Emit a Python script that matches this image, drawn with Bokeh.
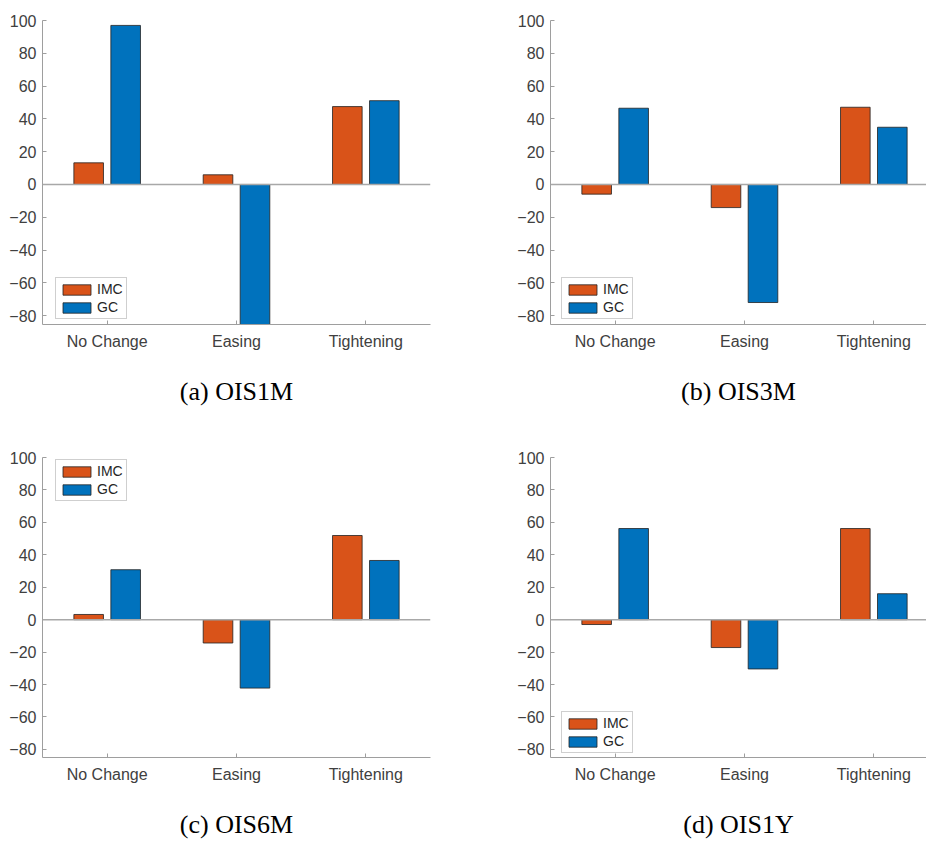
from bokeh.plotting import figure
from bokeh.models import ColumnDataSource, FixedTicker, Span, Legend, LegendItem
from bokeh.layouts import row, column
from bokeh.transform import dodge
from bokeh.embed import file_html
from bokeh.resources import INLINE

categories = ["No Change", "Easing", "Tightening"]
series_names = ["IMC", "GC"]
captions = ["(a) OIS1M", "(b) OIS3M", "(c) OIS6M", "(d) OIS1Y"]

imc_a = [13.2, 5.9, 47.5]
gc_a = [97.0, -95.0, 51.1]
imc_b = [-5.9, -14.1, 47.1]
gc_b = [46.5, -72.0, 34.9]
imc_c = [3.2, -14.4, 51.9]
gc_c = [30.8, -42.2, 36.5]
imc_d = [-3.0, -17.2, 56.2]
gc_d = [56.2, -30.4, 16.0]

y_ticks = [-80, -60, -40, -20, 0, 20, 40, 60, 80, 100]

IMC_COLOR = "#D95319"
GC_COLOR = "#0072BD"
AXIS_COLOR = "#9e9e9e"
TEXT_COLOR = "#404040"


def make_panel(caption, imc, gc, width, height, b_left, b_right, b_top, b_bottom,
               x_end, y_start, legend_loc):
    p = figure(width=width, height=height, output_backend="svg", toolbar_location=None,
               x_range=(0.5, x_end), y_range=(y_start, 100),
               min_border_left=b_left, min_border_right=b_right,
               min_border_top=b_top, min_border_bottom=b_bottom)
    p.outline_line_color = None
    p.xgrid.grid_line_color = None
    p.ygrid.grid_line_color = None
    p.background_fill_color = "white"
    p.border_fill_color = "white"

    src = ColumnDataSource(dict(pos=[i + 1 for i in range(len(categories))], imc=imc, gc=gc))
    r1 = p.vbar(x=dodge("pos", -0.143), top="imc", bottom=0, width=0.229, source=src,
                fill_color=IMC_COLOR, line_color="#222222", line_width=0.8)
    r2 = p.vbar(x=dodge("pos", 0.143), top="gc", bottom=0, width=0.229, source=src,
                fill_color=GC_COLOR, line_color="#222222", line_width=0.8)

    p.add_layout(Span(location=0, dimension="width", line_color="#a8a8a8", line_width=1.5))

    for ax in (p.xaxis[0], p.yaxis[0]):
        ax.axis_line_color = AXIS_COLOR
        ax.major_tick_line_color = AXIS_COLOR
        ax.minor_tick_line_color = None
        ax.major_tick_in = 4
        ax.major_tick_out = 0
        ax.major_label_text_font = "Liberation Sans"
        ax.major_label_text_font_size = "16px"
        ax.major_label_text_color = TEXT_COLOR

    p.yaxis.ticker = FixedTicker(ticks=y_ticks)
    p.yaxis.major_label_standoff = 6
    p.xaxis.ticker = FixedTicker(ticks=[i + 1 for i in range(len(categories))])
    p.xaxis.major_label_overrides = {i + 1: c for i, c in enumerate(categories)}
    p.xaxis.major_label_standoff = 8
    p.xaxis.axis_label = caption
    p.xaxis.axis_label_text_font = "Liberation Serif"
    p.xaxis.axis_label_text_font_size = "26px"
    p.xaxis.axis_label_text_font_style = "normal"
    p.xaxis.axis_label_text_color = "black"
    p.xaxis.axis_label_standoff = 24

    legend = Legend(items=[LegendItem(label=series_names[0], renderers=[r1]),
                           LegendItem(label=series_names[1], renderers=[r2])],
                    location=legend_loc)
    legend.border_line_color = "#a0a0a0"
    legend.border_line_width = 1
    legend.background_fill_color = "white"
    legend.background_fill_alpha = 1.0
    legend.padding = 3
    legend.spacing = 2
    legend.margin = 0
    legend.glyph_width = 35
    legend.glyph_height = 13
    legend.label_height = 16
    legend.label_standoff = 3
    legend.label_text_font = "Liberation Sans"
    legend.label_text_font_size = "14px"
    legend.label_text_color = "#262626"
    p.add_layout(legend)
    return p


XB_END = 0.5 + 376 / 129.33

pa = make_panel(captions[0], imc_a, gc_a, 468, 430, 42, 38, 20, 106, 3.5, -85.4, (13, 5))
pb = make_panel(captions[1], imc_b, gc_b, 458, 430, 82, 0, 20, 106, XB_END, -85.4, (11, 5))
pc = make_panel(captions[2], imc_c, gc_c, 468, 411, 42, 38, 27, 83, 3.5, -85.0, (13, 256))
pd = make_panel(captions[3], imc_d, gc_d, 458, 411, 82, 0, 27, 83, XB_END, -85.0, (11, 4))

layout = column(row(pa, pb), row(pc, pd))

with open("out.html", "w") as f:
    f.write(file_html(layout, INLINE))
